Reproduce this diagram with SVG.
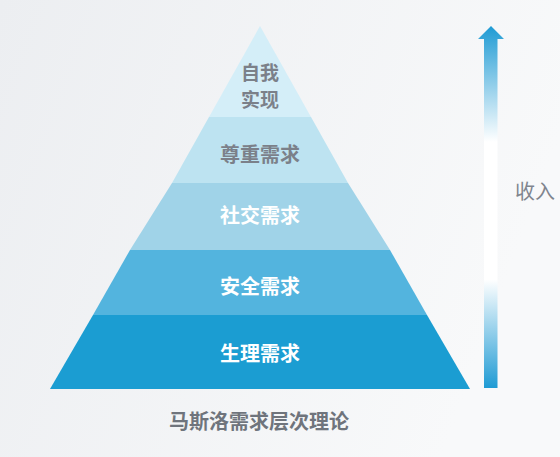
<svg xmlns="http://www.w3.org/2000/svg" width="560" height="457" viewBox="0 0 560 457">
<style>
.t{font-family:"Noto Sans CJK SC","Noto Sans",sans-serif;font-weight:bold;font-size:20px;text-anchor:middle}
.g{fill:#7b8089}
.w{fill:#ffffff}
</style>
<defs>
<linearGradient id="bg" x1="0" y1="0" x2="1" y2="0.3">
<stop offset="0" stop-color="#eceef1"/>
<stop offset="1" stop-color="#f8f9fa"/>
</linearGradient>
<linearGradient id="ar" x1="0" y1="26" x2="0" y2="388" gradientUnits="userSpaceOnUse">
<stop offset="0" stop-color="#1f9bd4"/>
<stop offset="0.32" stop-color="#ffffff"/>
<stop offset="0.7" stop-color="#ffffff"/>
<stop offset="1" stop-color="#1f9bd4"/>
</linearGradient>
</defs>
<rect width="560" height="457" fill="url(#bg)"/>
<g id="layer5">
<polygon points="260,26 311,117 209,117" fill="#d4eef8"/>
<text class="t g" x="260" y="80" style="font-size:19px">自我</text>
<text class="t g" x="260" y="107" style="font-size:19px">实现</text>
</g>
<g id="layer4">
<polygon points="209,117 311,117 348,183 172,183" fill="#bde3f1"/>
<text class="t g" x="260" y="162">尊重需求</text>
</g>
<g id="layer3">
<polygon points="172,183 348,183 390,250 130,250" fill="#a0d3e8"/>
<text class="t w" x="260" y="223">社交需求</text>
</g>
<g id="layer2">
<polygon points="130,250 390,250 427,315 93,315" fill="#53b4de"/>
<text class="t w" x="260" y="294">安全需求</text>
</g>
<g id="layer1">
<polygon points="93,315 427,315 470,389 50,389" fill="#1b9dd2"/>
<text class="t w" x="260" y="361">生理需求</text>
</g>
<g id="connectors">
<polygon points="491,26 504,39 497.5,39 497.5,388 484,388 484,39 478,39" fill="url(#ar)"/>
</g>
<g id="income">
<text x="535" y="199" style="font-family:'Noto Sans CJK SC',sans-serif;font-size:20px;fill:#80858e;text-anchor:middle">收入</text>
</g>
<g id="caption">
<text class="t" x="259" y="429" style="fill:#6f747c">马斯洛需求层次理论</text>
</g>
</svg>
